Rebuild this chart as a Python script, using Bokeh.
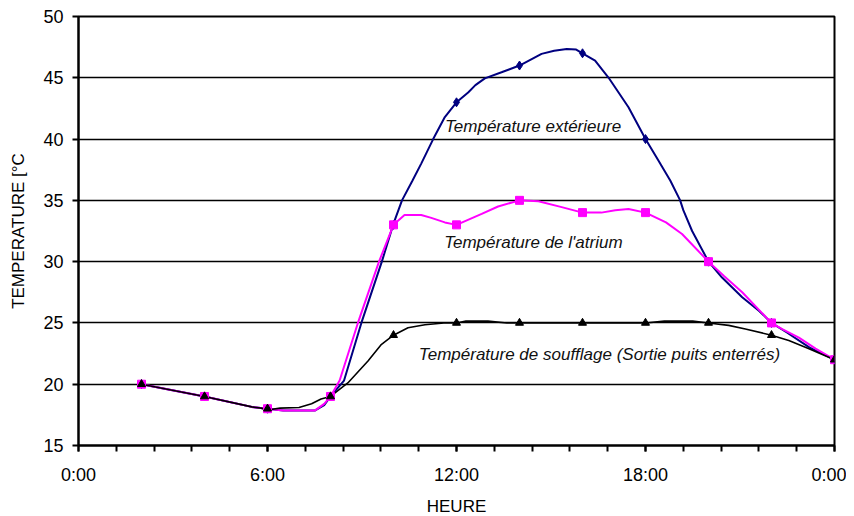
from bokeh.plotting import figure
from bokeh.models import Range1d, FixedTicker, Label
from bokeh.embed import file_html
from bokeh.resources import INLINE

# ---- data (hours, °C) ----
ext_hours = [2, 4, 5.5, 6, 6.5, 7.5, 7.8, 8, 8.43, 8.98, 9.63, 10, 10.27, 10.6, 10.88, 11.26,
             11.63, 12, 12.37, 12.6, 12.9, 13.43, 14, 14.7, 15.1, 15.5, 15.8, 16, 16.4, 16.83, 17.46,
             18, 18.4, 18.79, 19.1, 19.2, 19.48, 20, 20.43, 21.07, 21.6, 22, 22.5, 23.2, 24]
ext_temp = [20, 19, 18.15, 18, 17.85, 17.85, 18.3, 19, 20.3, 25, 30, 33.1, 35, 36.6, 38, 40,
            41.8, 43, 43.8, 44.4, 44.95, 45.45, 46, 46.95, 47.2, 47.35, 47.3, 47, 46.4, 45, 42.6,
            40, 38.3, 36.6, 35, 34.2, 32.5, 30, 28.7, 27.1, 26, 25, 24.2, 23, 22]

atr_hours = [2, 4, 5.5, 6, 6.5, 7.5, 7.8, 8, 8.29, 8.87, 9.54, 10, 10.35, 10.88, 11.2, 11.63,
             12, 12.8, 13.32, 14, 14.6, 15.34, 16, 16.6, 17.04, 17.46, 18, 18.65, 19.16, 20,
             20.5, 21.07, 22, 22.34, 22.87, 23.4, 24]
atr_temp = [20, 19, 18.15, 18, 17.85, 17.85, 18.4, 19, 20.3, 25, 30, 33, 33.8, 33.8, 33.57, 33.2,
            33, 33.9, 34.5, 35, 34.93, 34.45, 34, 34, 34.2, 34.3, 34, 33.2, 32.26, 30,
            28.8, 27.5, 25, 24.5, 23.8, 22.9, 22]

souf_hours = [2, 4, 5.5, 5.8, 6, 6.4, 7, 7.4, 7.7, 8, 8.55, 9.19, 9.6, 10, 10.46, 11, 11.6,
              12, 12.3, 13, 13.6, 14, 16, 18, 18.6, 19.5, 20, 20.64, 21.17, 22, 22.55, 23.19, 24]
souf_temp = [20, 19, 18.15, 18.05, 17.9, 18.05, 18.1, 18.4, 18.8, 19, 20.1, 21.9, 23.2, 24, 24.6,
             24.85, 25, 25, 25.15, 25.15, 25, 25, 25, 25, 25.15, 25.15, 25, 24.8, 24.5, 24, 23.56,
             22.9, 22]

mark_hours = [2, 4, 6, 8, 10, 12, 14, 16, 18, 20, 22, 24]
ext_marks = [20, 19, 18, 19, 33, 43, 46, 47, 40, 30, 25, 22]
atr_marks = [20, 19, 18, 19, 33, 33, 35, 34, 34, 30, 25, 22]
souf_marks = [20, 19, 18, 19, 24, 25, 25, 25, 25, 25, 24, 22]

x_ticks = [0, 6, 12, 18, 24]
x_tick_labels = ["0:00", "6:00", "12:00", "18:00", "0:00"]
x_minor = [i * 1.2 for i in range(21)]
y_ticks = [15, 20, 25, 30, 35, 40, 45, 50]

label_ext = "Température extérieure"
label_atr = "Température de l'atrium"
label_souf = "Température de soufflage (Sortie puits enterrés)"

FONT = "Liberation Sans"

p = figure(frame_width=756, frame_height=429, output_backend="svg", toolbar_location=None,
           x_range=Range1d(0, 24), y_range=Range1d(15, 50),
           min_border_left=78, min_border_right=12, min_border_top=16, min_border_bottom=64)
p.background_fill_color = "white"
p.border_fill_color = "white"
p.outline_line_color = "black"
p.outline_line_width = 2

p.xgrid.visible = False
p.ygrid.ticker = FixedTicker(ticks=y_ticks)
p.ygrid.grid_line_color = "black"
p.ygrid.grid_line_width = 1.6

p.xaxis.ticker = FixedTicker(ticks=x_ticks, minor_ticks=x_minor)
p.xaxis.major_label_overrides = {t: l for t, l in zip(x_ticks, x_tick_labels)}
p.yaxis.ticker = FixedTicker(ticks=y_ticks)

for ax in (p.xaxis[0], p.yaxis[0]):
    ax.axis_line_color = "black"
    ax.axis_line_width = 2
    ax.major_tick_line_color = "black"
    ax.major_tick_line_width = 2
    ax.minor_tick_line_color = "black"
    ax.minor_tick_line_width = 2
    ax.major_tick_in = 0
    ax.major_tick_out = 6
    ax.minor_tick_in = 0
    ax.minor_tick_out = 6
    ax.major_label_text_font = FONT
    ax.major_label_text_font_size = "18px"
    ax.major_label_text_color = "black"
    ax.axis_label_text_font = FONT
    ax.axis_label_text_font_size = "17px"
    ax.axis_label_text_font_style = "normal"
    ax.axis_label_text_color = "black"

p.yaxis.minor_tick_line_color = None
p.xaxis.major_label_standoff = 13
p.yaxis.major_label_standoff = 9
p.xaxis.axis_label = "HEURE"
p.yaxis.axis_label = "TEMPERATURE [°C"
p.xaxis.axis_label_standoff = 9
p.yaxis.axis_label_standoff = 12

# lines
p.line(ext_hours, ext_temp, line_color="#000080", line_width=2)
p.line(atr_hours, atr_temp, line_color="#FF00FF", line_width=2)
p.line(souf_hours, souf_temp, line_color="black", line_width=1.6)

# markers
p.scatter(mark_hours, ext_marks, marker="diamond", size=9, color="#000080")
p.scatter(mark_hours, atr_marks, marker="square", size=8, color="#FF00FF")
p.scatter(mark_hours, souf_marks, marker="triangle", size=8, color="black")

for txt, lx, ly in ((label_ext, 14.43, 41.0), (label_atr, 14.44, 31.6), (label_souf, 16.54, 22.45)):
    p.add_layout(Label(x=lx, y=ly, text=txt, text_font=FONT, text_font_size="17px",
                       text_font_style="italic", text_color="#111111",
                       text_align="center", text_baseline="middle"))

open("out.html", "w").write(file_html(p, INLINE))
